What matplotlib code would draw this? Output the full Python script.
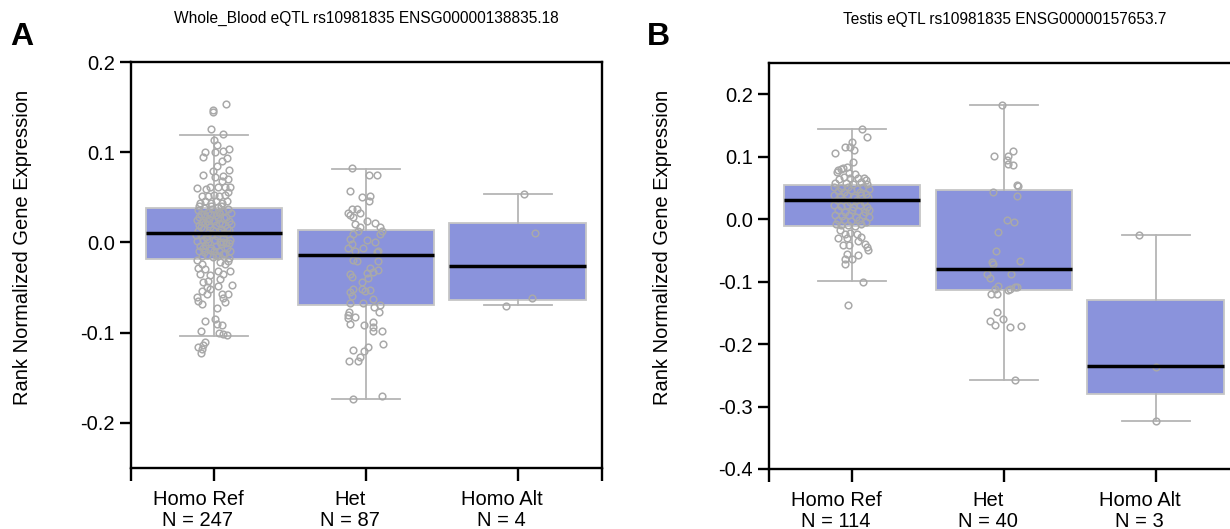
import matplotlib
matplotlib.use("Agg")
import matplotlib.pyplot as plt
from matplotlib.transforms import ScaledTranslation

plt.rcParams['font.family'] = ['Liberation Sans', 'DejaVu Sans']

groups = ['Homo Ref', 'Het', 'Homo Alt']

# panel A: Whole_Blood
titleA = 'Whole_Blood eQTL rs10981835 ENSG00000138835.18'
countsA = [247, 87, 4]
medA = [0.0108, -0.0142, -0.026]
q1A = [-0.0187, -0.0694, -0.064]
q3A = [0.0384, 0.0138, 0.0213]
wloA = [-0.104, -0.174, -0.0698]
whiA = [0.119, 0.081, 0.054]

# points (jitter offset, value)
refA = [(0.079, 0.153), (-0.009, 0.145), (-0.005, 0.147), (-0.020, 0.126), (0.057, 0.120), (0.002, 0.113),
        (0.018, 0.108), (0.097, 0.104), (-0.060, 0.100), (-0.074, 0.095), (0.057, 0.101), (0.088, 0.094),
        (0.007, 0.100), (0.050, 0.090), (0.017, 0.085), (-0.004, 0.079), (0.100, 0.080), (-0.070, 0.075),
        (0.061, 0.074), (0.010, 0.073), (0.050, 0.068), (0.094, 0.070), (-0.110, 0.060), (-0.053, 0.059),
        (-0.026, 0.062), (0.028, 0.062), (0.072, 0.061), (0.105, 0.061), (-0.081, 0.051), (-0.040, 0.052),
        (0.000, 0.053), (0.035, 0.051), (0.070, 0.053), (0.090, 0.056), (-0.092, 0.044), (-0.060, 0.046),
        (-0.020, 0.044), (0.015, 0.046), (0.050, 0.044), (0.085, 0.046), (-0.100, 0.040),
        (-0.105, 0.036), (-0.068, 0.038), (-0.042, 0.034), (-0.012, 0.037), (0.027, 0.039), (0.058, 0.035),
        (0.093, 0.037), (-0.088, 0.031), (-0.057, 0.029), (-0.018, 0.032), (0.012, 0.030), (0.043, 0.031),
        (0.081, 0.028), (0.112, 0.033), (-0.113, 0.025), (-0.076, 0.023), (-0.033, 0.026), (0.002, 0.024),
        (0.036, 0.022), (0.068, 0.027), (0.101, 0.024), (-0.096, 0.019), (-0.061, 0.021), (-0.024, 0.017),
        (0.016, 0.019), (0.052, 0.020), (0.086, 0.016), (-0.107, 0.013), (-0.071, 0.015), (-0.038, 0.011),
        (-0.004, 0.014), (0.031, 0.012), (0.066, 0.010), (0.099, 0.014), (-0.084, 0.008), (-0.052, 0.006),
        (-0.014, 0.009), (0.021, 0.007), (0.057, 0.005), (0.091, 0.009), (-0.111, 0.002), (-0.074, 0.003),
        (-0.036, 0.000), (0.006, 0.003), (0.041, 0.001), (0.076, -0.001), (0.106, 0.003), (-0.091, -0.004),
        (-0.056, -0.003), (-0.021, -0.006), (0.014, -0.004), (0.049, -0.002), (0.084, -0.006),
        (-0.101, -0.009), (-0.064, -0.011), (-0.029, -0.008), (0.001, -0.010), (0.034, -0.009),
        (0.071, -0.012), (0.103, -0.009), (-0.081, -0.015), (-0.046, -0.014), (-0.009, -0.016),
        (0.026, -0.015), (0.061, -0.013), (0.096, -0.017),
        (-0.097, 0.028), (-0.047, 0.024), (0.024, 0.027), (0.074, 0.019), (-0.087, 0.017), (-0.031, 0.020),
        (0.044, 0.015), (0.110, 0.020), (-0.064, 0.032), (0.034, 0.034), (-0.116, 0.008), (0.061, 0.000),
        (-0.044, 0.004), (0.096, -0.001), (-0.069, -0.006), (0.011, -0.014), (-0.019, 0.040), (0.046, 0.040),
        (-0.114, -0.020), (-0.081, -0.024), (0.039, -0.022), (0.072, -0.024), (0.094, -0.021),
        (-0.103, -0.028), (-0.059, -0.029), (0.028, -0.032), (0.105, -0.032), (-0.092, -0.035),
        (-0.026, -0.036), (0.061, -0.035), (0.039, -0.041), (-0.070, -0.044), (-0.037, -0.043),
        (-0.048, -0.049), (0.028, -0.048), (0.116, -0.047), (-0.081, -0.054), (-0.026, -0.052),
        (-0.048, -0.057), (0.050, -0.057), (0.094, -0.057), (-0.103, -0.065), (-0.081, -0.068),
        (0.061, -0.062), (0.072, -0.066), (-0.110, -0.061), (0.018, -0.073), (0.007, -0.085),
        (-0.059, -0.087), (0.018, -0.090), (-0.088, -0.098), (0.050, -0.092), (0.035, -0.100),
        (0.061, -0.101), (0.083, -0.103), (-0.059, -0.110), (-0.103, -0.116), (-0.081, -0.118),
        (-0.088, -0.122), (-0.070, -0.114)]
hetA = [(-0.094, 0.082), (0.022, 0.075), (0.070, 0.075), (-0.105, 0.057), (-0.028, 0.050), (0.026, 0.051),
        (0.022, 0.046), (-0.094, 0.037), (-0.061, 0.037), (-0.116, 0.033), (-0.039, 0.033), (-0.105, 0.030),
        (-0.083, 0.028), (0.004, 0.024), (0.059, 0.022), (-0.072, 0.020), (-0.039, 0.017), (0.092, 0.017),
        (-0.050, 0.013), (0.103, 0.013), (-0.083, 0.009), (0.092, 0.009), (-0.105, 0.004), (0.004, 0.003),
        (0.059, 0.000), (-0.094, -0.002), (-0.116, -0.006), (-0.018, -0.006), (-0.072, -0.010),
        (0.081, -0.010), (0.070, -0.011), (-0.083, -0.019), (-0.061, -0.021), (0.081, -0.021),
        (0.026, -0.028), (0.081, -0.030), (0.048, -0.033), (0.004, -0.034), (-0.105, -0.035),
        (-0.094, -0.038), (0.015, -0.039), (-0.028, -0.044), (-0.083, -0.052), (-0.028, -0.052),
        (0.026, -0.053), (-0.105, -0.055), (-0.009, -0.054), (-0.094, -0.059), (0.048, -0.063),
        (0.092, -0.069), (-0.018, -0.067), (-0.105, -0.067), (0.053, -0.072), (0.088, -0.077),
        (-0.110, -0.077), (-0.116, -0.080), (-0.072, -0.083), (-0.116, -0.084), (-0.105, -0.090),
        (-0.013, -0.091), (0.044, -0.088), (0.044, -0.094), (0.044, -0.098), (0.103, -0.098),
        (0.110, -0.113), (-0.083, -0.119), (0.015, -0.116), (-0.013, -0.120), (-0.039, -0.127),
        (-0.110, -0.131), (-0.050, -0.131), (-0.083, -0.173), (0.103, -0.170)]
altA = [(0.043, 0.054), (0.110, 0.010), (0.090, -0.062), (-0.077, -0.070)]

# panel B: Testis
titleB = 'Testis eQTL rs10981835 ENSG00000157653.7'
countsB = [114, 40, 3]
medB = [0.0299, -0.0798, -0.2358]
q1B = [-0.0113, -0.113, -0.2798]
q3B = [0.054, 0.0459, -0.129]
wloB = [-0.0985, -0.2575, -0.3226]
whiB = [0.145, 0.1823, -0.0249]

refB = [(0.064, 0.145), (0.097, 0.132), (0.000, 0.124), (-0.011, 0.116), (-0.046, 0.116), (-0.112, 0.106),
        (0.015, 0.110), (0.009, 0.092), (-0.090, 0.078), (-0.075, 0.080), (-0.100, 0.076), (-0.060, 0.082),
        (-0.030, 0.083), (-0.020, 0.074), (0.020, 0.072), (-0.050, 0.068), (-0.010, 0.066), (0.040, 0.066),
        (0.080, 0.066), (0.095, 0.062), (-0.085, 0.064), (0.060, 0.060), (-0.110, 0.058), (-0.040, 0.058),
        (0.010, 0.057), (0.100, 0.056),
        (-0.115, 0.052), (-0.070, 0.050), (-0.025, 0.051), (0.030, 0.049), (0.075, 0.052), (0.110, 0.048),
        (-0.095, 0.045), (-0.050, 0.043), (-0.005, 0.046), (0.050, 0.044), (0.090, 0.041),
        (-0.120, 0.038), (-0.080, 0.037), (-0.035, 0.039), (0.015, 0.036), (0.060, 0.038), (0.105, 0.035),
        (-0.100, 0.030), (-0.060, 0.031), (-0.015, 0.028), (0.035, 0.030), (0.080, 0.027),
        (-0.115, 0.022), (-0.075, 0.021), (-0.030, 0.023), (0.010, 0.020), (0.055, 0.022), (0.100, 0.019),
        (-0.090, 0.014), (-0.045, 0.012), (0.000, 0.015), (0.040, 0.013), (0.085, 0.011), (0.115, 0.014),
        (-0.110, 0.006), (-0.065, 0.005), (-0.020, 0.007), (0.025, 0.004), (0.070, 0.006), (0.110, 0.003),
        (-0.095, -0.002), (-0.050, -0.001), (-0.005, -0.003), (0.045, -0.002), (0.090, -0.004),
        (-0.105, -0.008), (-0.070, -0.010), (-0.025, -0.009), (0.020, -0.011), (0.060, -0.008),
        (-0.079, -0.018), (-0.046, -0.024), (-0.010, -0.022), (0.030, -0.024), (-0.090, -0.030),
        (-0.030, -0.030), (0.060, -0.028), (-0.057, -0.042), (-0.020, -0.042), (0.040, -0.035),
        (0.086, -0.040), (0.097, -0.045), (0.108, -0.050), (-0.035, -0.056), (0.041, -0.058),
        (-0.046, -0.064), (0.000, -0.064), (-0.046, -0.072), (0.075, -0.100), (-0.029, -0.138)]
hetB = [(-0.011, 0.182), (-0.064, 0.101), (0.061, 0.109), (0.024, 0.101), (0.018, 0.094), (0.029, 0.089),
        (0.061, 0.086), (0.088, 0.055), (0.090, 0.053), (-0.070, 0.043), (0.083, 0.037), (0.018, -0.002),
        (0.068, -0.005), (-0.037, -0.021), (-0.053, -0.051), (-0.077, -0.068), (0.105, -0.067),
        (-0.070, -0.072), (0.050, -0.088), (-0.110, -0.088), (-0.092, -0.095), (-0.037, -0.107),
        (-0.059, -0.112), (0.072, -0.109), (0.088, -0.108), (0.039, -0.112), (0.030, -0.114),
        (-0.086, -0.120), (-0.048, -0.120), (-0.048, -0.148), (-0.009, -0.160), (-0.092, -0.163),
        (-0.059, -0.170), (0.039, -0.172), (0.110, -0.171), (0.072, -0.258)]
altB = [(-0.110, -0.025), (0.000, -0.236), (0.000, -0.3226)]

box_color = '#8a93dc'
edge_gray = '#c6c6c6'
line_gray = '#b5b5b5'
dot_gray = '#a9a9a9'

fig = plt.figure(figsize=(12.3, 5.29), dpi=100)
axA = fig.add_axes([131 / 1230, 1 - 468 / 529, 471 / 1230, 406 / 529])
axB = fig.add_axes([769 / 1230, 1 - 469 / 529, 471 / 1230, 406 / 529])


def draw_panel(ax, title, counts, med, q1, q3, wlo, whi, pts, ylim, yticks):
    stats = []
    for i in range(len(groups)):
        stats.append({'med': med[i], 'q1': q1[i], 'q3': q3[i],
                      'whislo': wlo[i], 'whishi': whi[i], 'fliers': []})
    ax.bxp(stats, positions=[0, 1, 2], widths=0.9, patch_artist=True, showfliers=False,
           boxprops=dict(facecolor=box_color, edgecolor=edge_gray, linewidth=1.3),
           medianprops=dict(color='black', linewidth=2.5, zorder=5),
           whiskerprops=dict(color=line_gray, linewidth=1.3),
           capprops=dict(color=line_gray, linewidth=1.3),
           capwidths=0.45, manage_ticks=False)
    for i, grp in enumerate(pts):
        xs = [i + p[0] for p in grp]
        ys = [p[1] for p in grp]
        ax.plot(xs, ys, 'o', ms=4.8, mfc='none', mec=dot_gray, mew=1.1, zorder=4)

    ax.set_xlim(-0.546, 2.554)
    ax.set_ylim(ylim)
    ax.set_yticks(yticks)
    ax.set_yticklabels(['%.1f' % t for t in yticks])
    ax.set_xticks([0, 1, 2])
    ax.set_xticklabels(['%s\nN = %d' % (g, n) for g, n in zip(groups, counts)], linespacing=1.13)
    ax.set_xticks([-0.546, 2.554], minor=True)
    for s in ax.spines.values():
        s.set_linewidth(1.7)
    ax.tick_params(which='both', direction='out', width=1.7, labelsize=14.5)
    ax.tick_params(axis='y', length=8, pad=3.5)
    ax.tick_params(axis='x', which='both', length=9, pad=7)
    off = ScaledTranslation(-16 / 100, 0, fig.dpi_scale_trans)
    for lab in ax.get_xticklabels():
        lab.set_transform(lab.get_transform() + off)
    ax.set_title(title, fontsize=11.2, pad=28)


draw_panel(axA, titleA, countsA, medA, q1A, q3A, wloA, whiA, [refA, hetA, altA],
           (-0.25, 0.2), [-0.2, -0.1, 0.0, 0.1, 0.2])
draw_panel(axB, titleB, countsB, medB, q1B, q3B, wloB, whiB, [refB, hetB, altB],
           (-0.4, 0.25), [-0.4, -0.3, -0.2, -0.1, 0.0, 0.1, 0.2])

fig.text(23 / 1230, 1 - 247 / 529, 'Rank Normalized Gene Expression', rotation=90,
         ha='center', va='center', fontsize=14.5)
fig.text(662 / 1230, 1 - 247 / 529, 'Rank Normalized Gene Expression', rotation=90,
         ha='center', va='center', fontsize=14.5)
fig.text(10 / 1230, 1 - 45 / 529, 'A', fontsize=23, fontweight='bold')
fig.text(647 / 1230, 1 - 45 / 529, 'B', fontsize=23, fontweight='bold')

fig.savefig('out.png', dpi=100)
